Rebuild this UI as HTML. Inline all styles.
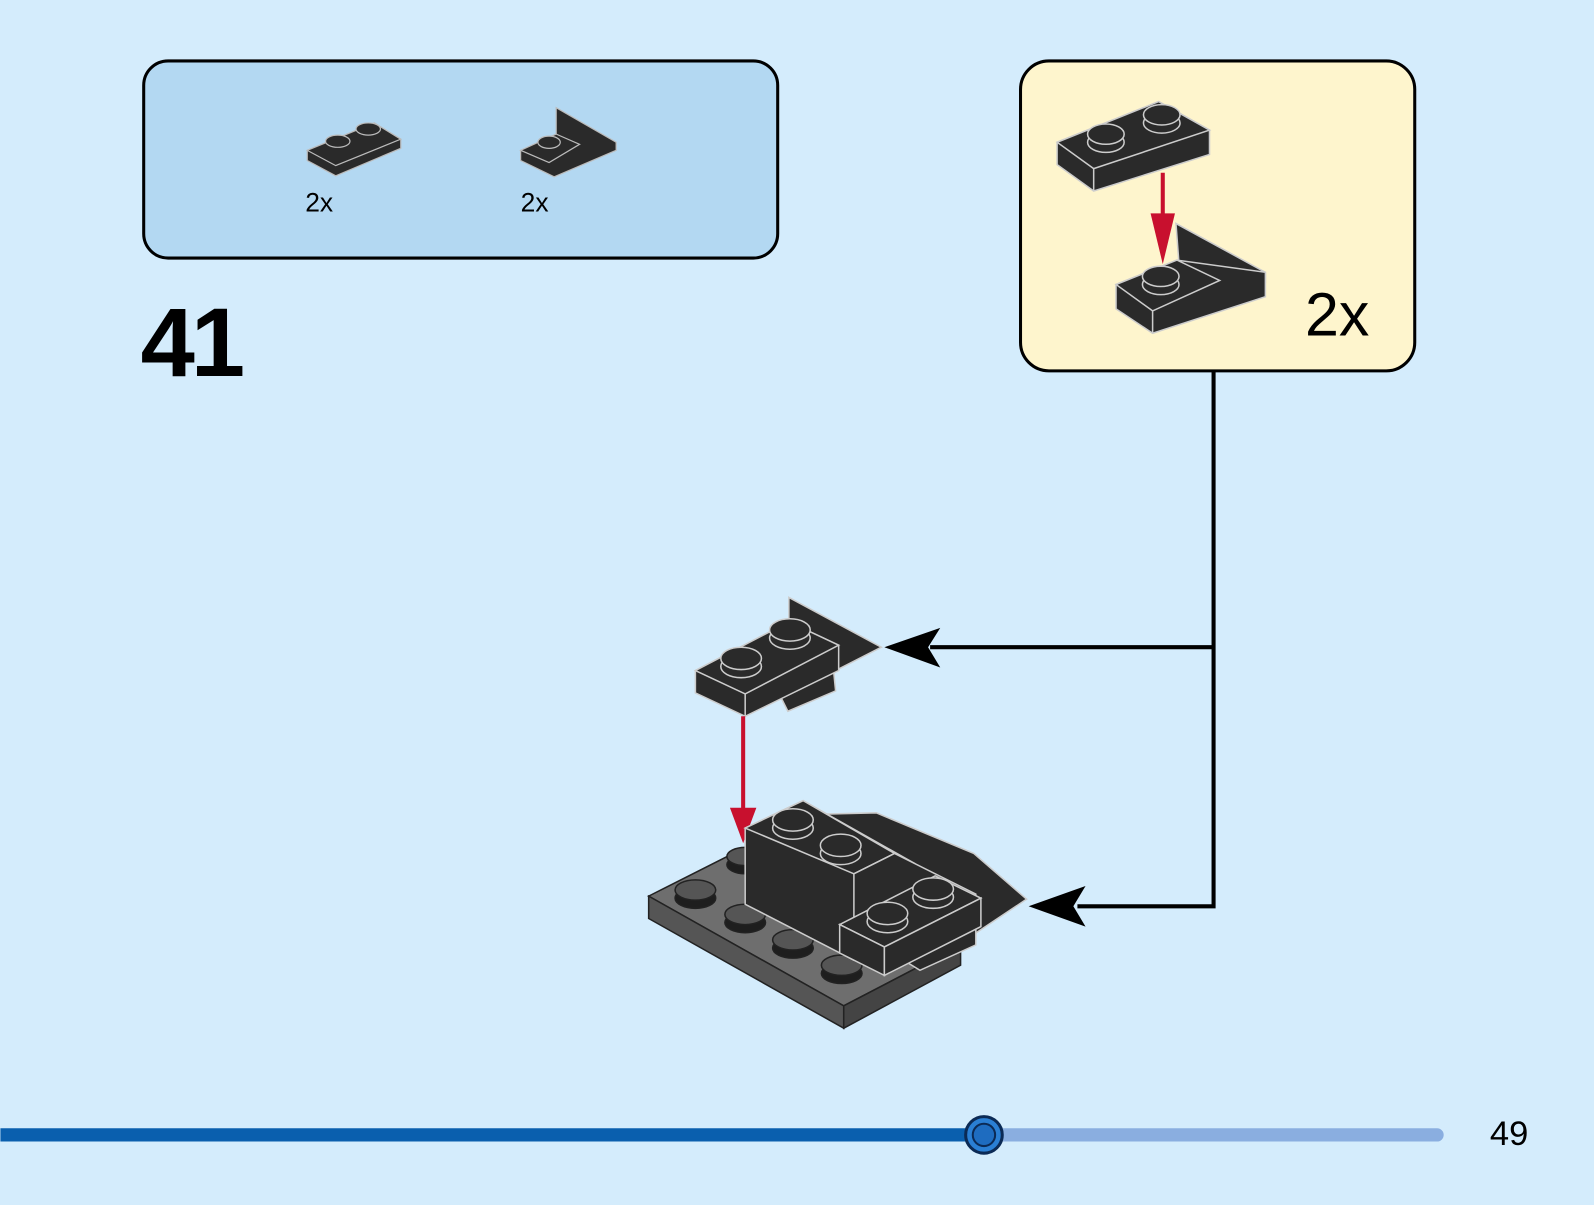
<!DOCTYPE html>
<html><head><meta charset="utf-8"><style>
html,body{margin:0;padding:0;background:#d4ecfc;}
svg{display:block}
text{font-family:"Liberation Sans","DejaVu Sans",sans-serif;fill:#000}
</style></head><body>
<svg width="1594" height="1205" viewBox="0 0 1568 1186" xmlns="http://www.w3.org/2000/svg">
<rect width="1568" height="1186" fill="#d4ecfc"/>
<!-- parts box -->
<rect x="141" y="60" width="624" height="194" rx="24" fill="#b3d8f2" stroke="#000" stroke-width="3"/>
<g stroke="#bbb" stroke-width="1.2" fill="#2a2a2a">
 <polygon points="302,148 368,121 394,137 394,146 330,173 302,158"/>
 <polygon points="302,148 368,121 394,137 330,163"/>
 <ellipse cx="332" cy="139" rx="12" ry="6"/><ellipse cx="362" cy="127" rx="12" ry="6"/>
 <polygon points="512,148 547,132 547,106 606,140 606,148 545,174 512,158"/>
 <polygon points="512,148 547,132 570,142 540,160"/>
 <ellipse cx="540" cy="140" rx="11" ry="6"/>
</g>
<text x="300" y="208" font-size="26">2x</text>
<text x="512" y="208" font-size="26">2x</text>
<text x="138" y="370" font-size="96" font-weight="bold" letter-spacing="-4">41</text>
<!-- callout box -->
<rect x="1004" y="60" width="388" height="305" rx="28" fill="#fef5cd" stroke="#000" stroke-width="3"/>
<text x="1284" y="330" font-size="60">2x</text>
<g stroke="#ccc" stroke-width="1.5" fill="#2a2a2a">
 <polygon points="1040,140 1140,100 1190,128 1190,152 1076,188 1040,162"/>
 <polygon points="1040,140 1140,100 1190,128 1076,166"/>
 <line x1="1076" y1="166" x2="1076" y2="188"/>
 <ellipse cx="1088" cy="140" rx="18" ry="10"/><ellipse cx="1088" cy="132" rx="18" ry="10"/>
 <ellipse cx="1143" cy="121" rx="18" ry="10"/><ellipse cx="1143" cy="113" rx="18" ry="10"/>
 <polygon points="1157,220 1160,260 1196,283 1245,278 1245,268"/>
 <polygon points="1098,280 1158,256 1245,268 1245,292 1134,328 1098,304"/>
 <polygon points="1098,280 1158,256 1200,276 1134,306"/>
 <line x1="1134" y1="306" x2="1134" y2="328"/>
 <ellipse cx="1142" cy="280" rx="18" ry="10"/><ellipse cx="1142" cy="272" rx="18" ry="10"/>
</g>
<line x1="1144" y1="170" x2="1144" y2="225" stroke="#c8102e" stroke-width="4"/>
<polygon points="1132,210 1156,210 1144,260" fill="#c8102e"/>
<!-- connectors -->
<polyline points="1194,365 1194,892 1060,892" fill="none" stroke="#000" stroke-width="4"/>
<line x1="1194" y1="637" x2="915" y2="637" stroke="#000" stroke-width="4"/>
<polygon points="870,637 925,618 913,637 925,657" fill="#000"/>
<polygon points="1012,892 1068,872 1056,892 1068,912" fill="#000"/>
<!-- upper part -->
<g stroke="#ccc" stroke-width="1.5" fill="#2a2a2a">
 <polygon points="776,588 867,637 822,660 776,650"/>
 <polygon points="765,680 820,660 822,680 775,700"/>
 <polygon points="684,660 776,612 825,635 825,660 733,705 684,682"/>
 <polygon points="684,660 776,612 825,635 733,683"/>
 <line x1="733" y1="683" x2="733" y2="705"/>
 <ellipse cx="729" cy="656" rx="20" ry="11"/><ellipse cx="729" cy="648" rx="20" ry="11"/>
 <ellipse cx="777" cy="628" rx="20" ry="11"/><ellipse cx="777" cy="620" rx="20" ry="11"/>
</g>
<line x1="731" y1="705" x2="731" y2="800" stroke="#c8102e" stroke-width="4"/>
<polygon points="718,795 744,795 731,830" fill="#c8102e"/>
<!-- base assembly -->
<g stroke="#222" stroke-width="1.5">
 <polygon points="638,882 745,828 945,930 830,990" fill="#6e6e6e"/>
 <polygon points="638,882 830,990 830,1012 638,904" fill="#555"/>
 <polygon points="830,990 945,930 945,950 830,1012" fill="#444"/>
 <g fill="#1e1e1e">
 <ellipse cx="684" cy="884" rx="20" ry="10"/><ellipse cx="684" cy="876" rx="20" ry="10" fill="#555"/>
 <ellipse cx="733" cy="908" rx="20" ry="10"/><ellipse cx="733" cy="900" rx="20" ry="10" fill="#555"/>
 <ellipse cx="780" cy="933" rx="20" ry="10"/><ellipse cx="780" cy="925" rx="20" ry="10" fill="#555"/>
 <ellipse cx="828" cy="958" rx="20" ry="10"/><ellipse cx="828" cy="950" rx="20" ry="10" fill="#555"/>
 <ellipse cx="733" cy="851" rx="18" ry="9"/><ellipse cx="733" cy="843" rx="18" ry="9" fill="#555"/>
 </g>
</g>
<g stroke="#ccc" stroke-width="1.5" fill="#2a2a2a">
 <polygon points="780,802 862,800 958,840 1010,885 920,945 870,920"/>
 <polygon points="733,815 790,788 900,850 900,930 840,945 733,890"/>
 <polygon points="733,815 790,788 880,840 840,860"/>
 <polygon points="840,860 880,840 960,880 960,930 905,955 840,915"/>
 <polygon points="826,910 920,862 965,884 870,932"/>
 <polygon points="826,910 870,932 870,960 826,938"/>
 <polygon points="870,932 965,884 965,912 870,960"/>
 <ellipse cx="780" cy="815" rx="20" ry="11"/><ellipse cx="780" cy="807" rx="20" ry="11"/>
 <ellipse cx="827" cy="840" rx="20" ry="11"/><ellipse cx="827" cy="832" rx="20" ry="11"/>
 <ellipse cx="873" cy="907" rx="20" ry="11"/><ellipse cx="873" cy="899" rx="20" ry="11"/>
 <ellipse cx="918" cy="883" rx="20" ry="11"/><ellipse cx="918" cy="875" rx="20" ry="11"/>
</g>
<!-- progress bar -->
<line x1="968" y1="1117" x2="1414" y2="1117" stroke="#8aaee0" stroke-width="13" stroke-linecap="round"/>
<line x1="0" y1="1117" x2="968" y2="1117" stroke="#0a5fae" stroke-width="13"/>
<circle cx="968" cy="1117" r="18" fill="#2a7fd4" stroke="#0b2a55" stroke-width="3"/>
<circle cx="968" cy="1117" r="11" fill="#1e6cc0" stroke="#0b2a55" stroke-width="2"/>
<text x="1466" y="1127" font-size="34">49</text>
</svg>
</body></html>
